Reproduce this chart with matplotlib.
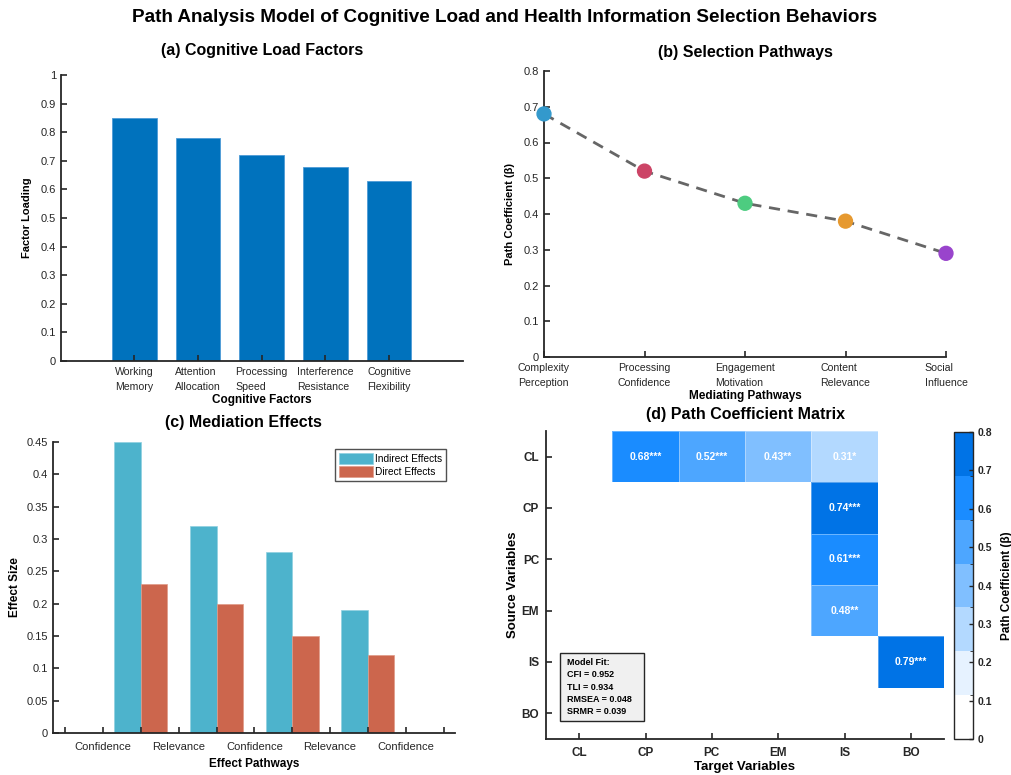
import numpy as np
import matplotlib
matplotlib.use('Agg')
import matplotlib.pyplot as plt
from matplotlib.colors import ListedColormap, BoundaryNorm
from matplotlib.patches import Rectangle

plt.rcParams['font.family'] = ['Liberation Sans', 'DejaVu Sans']
plt.rcParams['axes.linewidth'] = 1.3
plt.rcParams['xtick.direction'] = 'in'
plt.rcParams['ytick.direction'] = 'in'
plt.rcParams['xtick.color'] = '#262626'
plt.rcParams['ytick.color'] = '#262626'
plt.rcParams['axes.edgecolor'] = '#262626'

# (a) factor loadings
factors = ['Working\nMemory', 'Attention\nAllocation', 'Processing\nSpeed',
           'Interference\nResistance', 'Cognitive\nFlexibility']
loadings = [0.85, 0.78, 0.72, 0.68, 0.63]

# (b) mediating pathways
pathways = ['Complexity\nPerception', 'Processing\nConfidence', 'Engagement\nMotivation',
            'Content\nRelevance', 'Social\nInfluence']
path_coef = [0.68, 0.52, 0.43, 0.38, 0.29]
point_colors = ['#3399cc', '#cc4466', '#4dcc80', '#e6992f', '#9944cc']

# (c) mediation effects
effect_labels = ['', 'Confidence', '', 'Relevance', '', 'Confidence', '',
                 'Relevance', '', 'Confidence', '']
indirect = [0.45, 0.32, 0.28, 0.19]
direct = [0.23, 0.20, 0.15, 0.12]

# (d) path coefficient matrix
variables = ['CL', 'CP', 'PC', 'EM', 'IS', 'BO']
coef = np.array([
    [0, 0.68, 0.52, 0.43, 0.31, 0],
    [0, 0, 0, 0, 0.74, 0],
    [0, 0, 0, 0, 0.61, 0],
    [0, 0, 0, 0, 0.48, 0],
    [0, 0, 0, 0, 0, 0.79],
    [0, 0, 0, 0, 0, 0],
])
stars = np.array([
    ['', '***', '***', '**', '*', ''],
    ['', '', '', '', '***', ''],
    ['', '', '', '', '***', ''],
    ['', '', '', '', '**', ''],
    ['', '', '', '', '', '***'],
    ['', '', '', '', '', ''],
])
fit_stats = ['Model Fit:', 'CFI = 0.952', 'TLI = 0.934', 'RMSEA = 0.048', 'SRMR = 0.039']

W, H = 1011, 775
fig = plt.figure(figsize=(W / 100, H / 100), dpi=100)


def box(l, t, r, b):
    return [l / W, 1 - b / H, (r - l) / W, (b - t) / H]


def style(ax):
    for s in ['top', 'right']:
        ax.spines[s].set_visible(False)
    ax.tick_params(labelsize=8, length=4, width=1.2)


fig.text(505 / W, 1 - 18 / H,
         'Path Analysis Model of Cognitive Load and Health Information Selection Behaviors',
         ha='center', va='center', fontsize=13.6, fontweight='bold')

# ---- (a)
ax1 = fig.add_axes(box(61, 75, 463, 361))
style(ax1)
x1 = np.arange(1, len(loadings) + 1)
ax1.bar(x1, loadings, width=0.7, color='#0072bd', edgecolor='#4d9bd6', linewidth=0.6)
ax1.set_xlim(-0.15, 6.16)
ax1.set_ylim(0, 1)
ax1.set_yticks(np.arange(0, 1.01, 0.1))
ax1.set_yticklabels(['0', '0.1', '0.2', '0.3', '0.4', '0.5', '0.6', '0.7', '0.8', '0.9', '1'])
ax1.set_xticks(x1)
ax1.set_xticklabels(factors, multialignment='left', linespacing=1.55, fontsize=7.6)
ax1.tick_params(axis='x', pad=4.5)
ax1.set_ylabel('Factor Loading', fontsize=8, fontweight='bold', labelpad=6)
ax1.set_xlabel('Cognitive Factors', fontsize=8.5, fontweight='bold', labelpad=1.5)
fig.text(262 / W, 1 - 50 / H, '(a) Cognitive Load Factors', ha='center', va='center',
         fontsize=11.5, fontweight='bold')

# ---- (b)
ax2 = fig.add_axes(box(544, 71, 946, 357))
style(ax2)
x2 = np.arange(1, len(path_coef) + 1)
ax2.plot(x2, path_coef, color='#666666', linewidth=2.0, linestyle=(0, (4, 2.8)), zorder=2)
ax2.scatter(x2, path_coef, s=100, c=point_colors, zorder=3, clip_on=False)
ax2.set_xlim(1, 5)
ax2.set_ylim(0, 0.8)
ax2.set_yticks(np.arange(0, 0.81, 0.1))
ax2.set_yticklabels(['0', '0.1', '0.2', '0.3', '0.4', '0.5', '0.6', '0.7', '0.8'])
ax2.set_xticks(x2)
ax2.set_xticklabels(pathways, multialignment='left', linespacing=1.55, fontsize=7.6)
ax2.tick_params(axis='x', pad=4.5)
ax2.set_ylabel('Path Coefficient (β)', fontsize=8, fontweight='bold', labelpad=6)
ax2.set_xlabel('Mediating Pathways', fontsize=8.5, fontweight='bold', labelpad=1.5)
fig.text(745 / W, 1 - 52 / H, '(b) Selection Pathways', ha='center', va='center',
         fontsize=11.5, fontweight='bold')

# ---- (c)
ax3 = fig.add_axes(box(53, 442, 455, 733))
style(ax3)
x3 = np.arange(1, len(indirect) + 1)
bw = 0.35
ax3.bar(x3 - bw / 2, indirect, width=bw, color='#4db3cc', edgecolor='#8fd0e0',
        linewidth=0.5, label='Indirect Effects')
ax3.bar(x3 + bw / 2, direct, width=bw, color='#cc664d', edgecolor='#e09a88',
        linewidth=0.5, label='Direct Effects')
ax3.set_xlim(-0.16, 5.15)
ax3.set_ylim(0, 0.45)
ax3.set_yticks(np.arange(0, 0.451, 0.05))
ax3.set_yticklabels(['0', '0.05', '0.1', '0.15', '0.2', '0.25', '0.3', '0.35', '0.4', '0.45'])
ax3.set_xticks(np.arange(0, 5.01, 0.5))
ax3.set_xticklabels(effect_labels, fontsize=8)
ax3.tick_params(axis='x', pad=6.5)
ax3.set_ylabel('Effect Size', fontsize=8.5, fontweight='bold', labelpad=4)
ax3.set_xlabel('Effect Pathways', fontsize=8.5, fontweight='bold', labelpad=4)
leg = ax3.legend(loc='upper right', bbox_to_anchor=(0.978, 0.975), fontsize=7.3,
                 frameon=True, fancybox=False, handlelength=3.4, handleheight=1.3,
                 borderpad=0.35, labelspacing=0.2, handletextpad=0.2, borderaxespad=0)
leg.get_frame().set_edgecolor('#262626')
leg.get_frame().set_linewidth(1.0)
fig.text(243 / W, 1 - 423 / H, '(c) Mediation Effects', ha='center', va='center',
         fontsize=11.5, fontweight='bold')

# ---- (d)
ax4 = fig.add_axes(box(546, 431, 944, 739))
style(ax4)
cmap = ListedColormap(['#ffffff', '#e6f2ff', '#b3d9ff', '#80bfff', '#4da6ff',
                       '#1a8cff', '#0073e6'])
norm = BoundaryNorm(np.linspace(0, 0.8, 8), cmap.N)
n = len(variables)
edges = np.arange(0.5, n + 1, 1)
mesh = ax4.pcolormesh(edges, edges, coef, cmap=cmap, norm=norm,
                      edgecolors=(1, 1, 1, 0.35), linewidth=0.6)
for i in range(n):
    for j in range(n):
        if coef[i, j] > 0:
            ax4.text(j + 1, i + 1, f'{coef[i, j]:.2f}{stars[i, j]}', ha='center',
                     va='center', color='white', fontsize=7.5, fontweight='bold')
ax4.set_xlim(0.5, n + 0.5)
ax4.set_ylim(n + 0.5, 0.5)
ax4.set_xticks(np.arange(1, n + 1))
ax4.set_yticks(np.arange(1, n + 1))
ax4.set_xticklabels(variables, fontweight='bold', fontsize=8.5)
ax4.set_yticklabels(variables, fontweight='bold', fontsize=8.5)
ax4.tick_params(axis='x', pad=5.5)
ax4.tick_params(axis='y', pad=5)
ax4.set_ylabel('Source Variables', fontsize=9.5, fontweight='bold', labelpad=2)
ax4.set_xlabel('Target Variables', fontsize=9.5, fontweight='bold', labelpad=2)
fig.text(745 / W, 1 - 415 / H, '(d) Path Coefficient Matrix', ha='center', va='center',
         fontsize=11.5, fontweight='bold')

ax4.add_patch(Rectangle((14 / 398, 18 / 308), 84 / 398, 68 / 308, transform=ax4.transAxes,
                        facecolor='#f0f0f0', edgecolor='#262626', linewidth=1.0, zorder=4))
ax4.text(21 / 398, 52 / 308, '\n'.join(fit_stats), transform=ax4.transAxes, ha='left',
         va='center', fontsize=6.5, fontweight='bold', linespacing=1.45, zorder=5)

cax = fig.add_axes(box(954, 432, 973, 739))
cb = fig.colorbar(mesh, cax=cax, ticks=np.arange(0, 0.81, 0.1))
cb.ax.set_yticklabels(['0', '0.1', '0.2', '0.3', '0.4', '0.5', '0.6', '0.7', '0.8'])
cb.ax.tick_params(labelsize=7.5, direction='in', length=3, width=1)
for t in cb.ax.get_yticklabels():
    t.set_fontweight('bold')
cb.outline.set_linewidth(1.0)
cb.outline.set_edgecolor('#262626')
cb.set_label('Path Coefficient (β)', fontsize=8.5, fontweight='bold', labelpad=6)

fig.savefig('out.png', dpi=100)
